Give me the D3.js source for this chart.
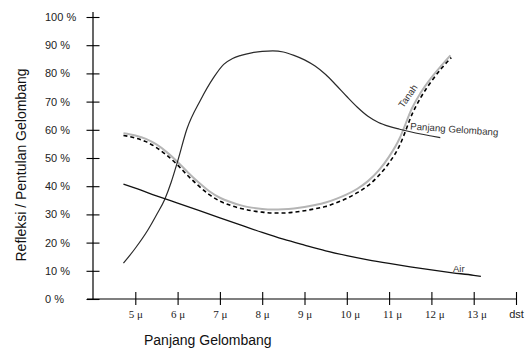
<!DOCTYPE html>
<html>
<head>
<meta charset="utf-8">
<script src="https://cdn.jsdelivr.net/npm/d3@7"></script>
<style>
  body { margin: 0; background: #fff; }
  svg { display: block; }
</style>
</head>
<body>
<svg></svg>
<script>
const width = 526;
const height = 349;

// data: [wavelength in micron, reflection %]
const airData = [[4.72, 40.7], [5, 39.3], [5.5, 36.6], [6, 34.0], [6.5, 31.4], [7, 28.8], [7.5, 26.2], [8, 23.6],
    [8.5, 21.2], [9, 19.1], [9.5, 17.1], [10, 15.4], [10.5, 13.9], [11, 12.6], [11.5, 11.4], [12, 10.3],
    [12.5, 9.3], [13, 8.4], [13.17, 8.0]];
const tanahData = [[4.72, 12.7], [5, 18.0], [5.29, 24.3], [5.5, 29.8], [5.7, 35.5], [5.85, 41.5], [6, 48.8],
    [6.22, 60.3], [6.54, 70.5], [6.85, 78.5], [7.09, 83.2], [7.3, 85.3], [7.5, 86.4], [7.75, 87.3], [8, 87.8],
    [8.25, 88.0], [8.5, 87.6], [8.75, 86.4], [9, 84.8], [9.25, 82.6], [9.5, 79.6], [9.75, 75.8], [10, 71.8],
    [10.25, 68.0], [10.5, 64.8], [10.75, 62.6], [11, 61.2], [11.25, 60.2], [11.5, 59.3], [11.75, 58.5],
    [12, 57.8], [12.21, 57.2]];
const gelombangGray = [[4.72, 58.8], [5, 58.0], [5.25, 56.8], [5.5, 54.8], [5.75, 52.0], [6, 48.6], [6.25, 44.8],
    [6.5, 41.3], [6.75, 38.2], [7, 35.9], [7.25, 34.4], [7.5, 33.2], [7.75, 32.4], [8, 31.9], [8.25, 31.7],
    [8.5, 31.8], [8.75, 32.1], [9, 32.6], [9.25, 33.3], [9.5, 34.2], [9.75, 35.5], [10, 37.1], [10.25, 39.1],
    [10.5, 41.8], [10.75, 45.5], [11, 50.5], [11.25, 57.0], [11.4, 62.5], [11.5, 66.3], [11.75, 73.2],
    [12, 78.5], [12.25, 83.0], [12.45, 86.4]];
const gelombangDash = [[4.72, 58.0], [5, 57.1], [5.25, 55.8], [5.5, 53.7], [5.75, 50.9], [6, 47.5], [6.25, 43.6],
    [6.5, 40.1], [6.75, 37.0], [7, 34.7], [7.25, 33.2], [7.5, 32.1], [7.75, 31.3], [8, 30.8], [8.25, 30.5],
    [8.5, 30.5], [8.75, 30.8], [9, 31.3], [9.25, 32.0], [9.5, 32.8], [9.75, 34.1], [10, 35.7], [10.25, 37.7],
    [10.5, 40.2], [10.75, 43.7], [11, 48.3], [11.25, 54.5], [11.4, 60.0], [11.5, 64.0], [11.75, 71.5],
    [12, 77.2], [12.25, 82.0], [12.47, 85.6]];

const xTicks = [5, 6, 7, 8, 9, 10, 11, 12, 13, 14];
const xTickLabels = ['5 μ', '6 μ', '7 μ', '8 μ', '9 μ', '10 μ', '11 μ', '12 μ', '13 μ', 'dst'];
const yTicks = [0, 10, 20, 30, 40, 50, 60, 70, 80, 90, 100];
const yTickLabels = yTicks.map(d => d + ' %');

const svg = d3.select('svg')
    .attr('width', width)
    .attr('height', height);

const x = d3.scaleLinear().domain([4, 14]).range([93, 516]);
const y = d3.scaleLinear().domain([0, 100]).range([299, 17]);

const sans = 'Liberation Sans, Arial, sans-serif';
const serif = 'Liberation Serif, Times New Roman, serif';

// x axis
const xAxis = svg.append('g')
    .attr('transform', `translate(0,${y(0)})`)
    .call(d3.axisBottom(x).tickValues(xTicks).tickSizeOuter(0)
        .tickFormat((d, i) => xTickLabels[i]));
xAxis.select('.domain').remove();
xAxis.selectAll('.tick line')
    .attr('y1', -7).attr('y2', 6)
    .attr('stroke', '#000').attr('stroke-width', 1.1);
xAxis.selectAll('.tick text')
    .attr('y', 11)
    .attr('dy', '0.71em')
    .attr('dx', (d, i) => xTickLabels[i].length > 3 && d < 14 ? 3 : 0)
    .attr('fill', '#222')
    .style('font-family', (d, i) => d < 14 ? serif : sans)
    .style('font-size', '11px');
xAxis.append('line')
    .attr('x1', x(4) - 6).attr('x2', x(14))
    .attr('stroke', '#000').attr('stroke-width', 1.2);

// y axis
const yAxis = svg.append('g')
    .attr('transform', `translate(${x(4)},0)`)
    .call(d3.axisLeft(y).tickValues(yTicks).tickSizeOuter(0)
        .tickFormat((d, i) => yTickLabels[i]));
yAxis.select('.domain').remove();
yAxis.selectAll('.tick line')
    .attr('x1', -6.5).attr('x2', 6.5)
    .attr('stroke', '#000').attr('stroke-width', 1.1);
yAxis.selectAll('.tick text')
    .attr('x', -48)
    .attr('text-anchor', 'start')
    .attr('fill', '#222')
    .style('font-family', sans)
    .style('font-size', '11px');
yAxis.append('line')
    .attr('y1', y(100) - 5).attr('y2', y(0))
    .attr('stroke', '#000').attr('stroke-width', 1.2);

// titles
svg.append('text')
    .attr('transform', 'translate(26,165) rotate(-90)')
    .attr('text-anchor', 'middle')
    .style('font-family', sans)
    .style('font-size', '14px')
    .attr('fill', '#111')
    .text('Refleksi / Pentulan Gelombang');

svg.append('text')
    .attr('x', 144)
    .attr('y', 345)
    .style('font-family', sans)
    .style('font-size', '14px')
    .attr('fill', '#111')
    .text('Panjang Gelombang');

// curves
const line = d3.line()
    .x(d => x(d[0]))
    .y(d => y(d[1]))
    .curve(d3.curveMonotoneX);

svg.append('path')
    .attr('d', line(gelombangGray))
    .attr('fill', 'none')
    .attr('stroke', '#b5b5b5')
    .attr('stroke-width', 2);

svg.append('path')
    .attr('d', line(gelombangDash))
    .attr('fill', 'none')
    .attr('stroke', '#000')
    .attr('stroke-width', 1.6)
    .attr('stroke-dasharray', '4,3');

svg.append('path')
    .attr('d', line(tanahData))
    .attr('fill', 'none')
    .attr('stroke', '#2a2a2a')
    .attr('stroke-width', 1.2);

svg.append('path')
    .attr('d', line(airData))
    .attr('fill', 'none')
    .attr('stroke', '#111')
    .attr('stroke-width', 1.3);

// curve labels
svg.append('text')
    .attr('x', 453)
    .attr('y', 271.5)
    .style('font-family', sans)
    .style('font-size', '9.5px')
    .attr('fill', '#333')
    .text('Air');

svg.append('text')
    .attr('transform', 'translate(408,96) rotate(-55)')
    .attr('text-anchor', 'middle')
    .attr('dy', '0.35em')
    .style('font-family', sans)
    .style('font-size', '9.5px')
    .attr('fill', '#333')
    .text('Tanah');

svg.append('text')
    .attr('transform', 'translate(410,129.5) rotate(4)')
    .style('font-family', sans)
    .style('font-size', '9.7px')
    .attr('fill', '#333')
    .text('Panjang Gelombang');
</script>
</body>
</html>
